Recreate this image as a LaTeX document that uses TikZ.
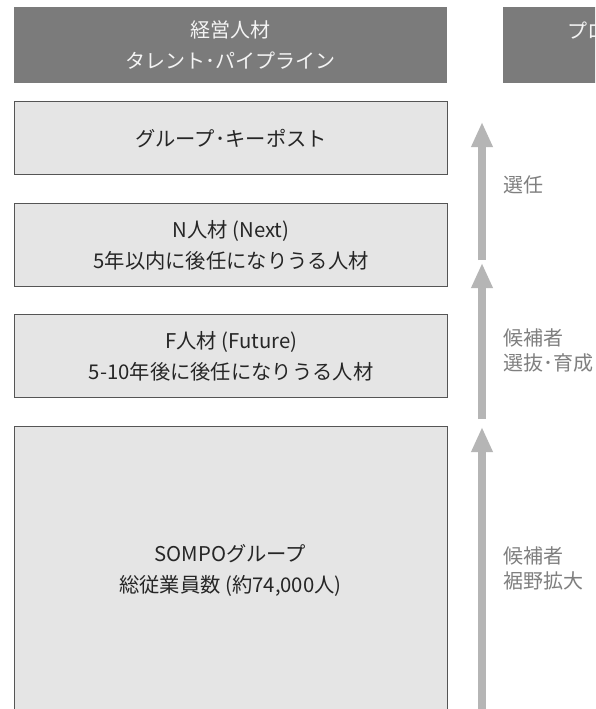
\documentclass[tikz,border=0pt]{standalone}
\usepackage{fontspec}
\setmainfont{Noto Sans CJK JP}
\usetikzlibrary{arrows.meta,backgrounds}
\definecolor{hdrfill}{HTML}{7B7B7B}
\definecolor{hdrtext}{HTML}{F4F4F4}
\definecolor{boxfill}{HTML}{E5E5E5}
\definecolor{boxline}{HTML}{555555}
\definecolor{barcol}{HTML}{B5B5B5}
\definecolor{boxtext}{HTML}{262626}
\definecolor{lbltext}{HTML}{7F7F7F}
\newcommand{\pgap}{\hspace{0.22em}}
\begin{document}
\begin{tikzpicture}[x=1pt,y=-1pt,
  hdr/.style={fill=hdrfill,draw=none,inner sep=0pt,anchor=north west},
  hdrtxt/.style={text=hdrtext,align=center,inner sep=0pt,font=\fontsize{20}{31}\selectfont},
  stagebox/.style={fill=boxfill,draw=boxline,line width=1.2pt,inner sep=0pt,anchor=north west,minimum width=433pt},
  boxtxt/.style={text=boxtext,align=center,inner sep=0pt,font=\fontsize{20.3}{31}\selectfont},
  bar/.style={draw=barcol,line width=26pt},
  uparrow/.style={draw=barcol,line width=8pt,-{Triangle[width=20pt,length=25pt]}},
  lbl/.style={text=lbltext,align=left,anchor=west,inner sep=0pt,font=\fontsize{20}{25}\selectfont}
]
\useasboundingbox (0,0) rectangle (595,709);
\clip (0,0) rectangle (595,709);
\fill[white] (0,0) rectangle (595,709);

% headers
\node[hdr,minimum width=433pt,minimum height=76pt] (h1) at (14,7) {};
\node[hdrtxt] (h1t) at (h1.center) {経営人材\\タレント･パイプライン};
\node[hdr,minimum width=120pt,minimum height=76pt] (h2) at (503,7) {};
\node[hdrtxt,anchor=west] (h2t) at (567,31) {プロ};

% stage boxes
\node[stagebox,minimum height=73pt] (k) at (14,101) {};
\node[boxtxt] (kt) at (k.center) {グループ･キーポスト};
\node[stagebox,minimum height=83pt] (n) at (14,203) {};
\node[boxtxt] (nt) at (n.center) {N人材\pgap(Next)\pgap\\5年以内に後任になりうる人材};
\node[stagebox,minimum height=83pt] (f) at (14,314) {};
\node[boxtxt] (ft) at (f.center) {F人材\pgap(Future)\pgap\\5-10年後に後任になりうる人材};
\node[stagebox,minimum height=340pt] (s) at (14,426) {};
\node[boxtxt] (st) at (230.5,570) {SOMPOグループ\\総従業員数\pgap(約74,000人)\pgap};

% bars between boxes
\begin{scope}[on background layer]
\draw[bar] ([xshift=-7.5pt]k.south) -- ([xshift=-7.5pt]n.north);
\draw[bar] ([xshift=-7.5pt]n.south) -- ([xshift=-7.5pt]f.north);
\draw[bar] ([xshift=-7.5pt]f.south) -- ([xshift=-7.5pt]s.north);
\end{scope}

% arrows
\coordinate (a1s) at (482,260);
\coordinate (a1t) at (482,122);
\coordinate (a2s) at (482,419);
\coordinate (a2t) at (482,263);
\coordinate (a3s) at (482,730);
\coordinate (a3t) at (482,427);
\draw[uparrow] (a1s) -- (a1t);
\draw[uparrow] (a2s) -- (a2t);
\draw[uparrow] (a3s) -- (a3t);

% labels
\node[lbl] (l1) at (503,185) {選任};
\node[lbl] (l2) at (503,350) {候補者\\選抜･育成};
\node[lbl] (l3) at (503,568) {候補者\\裾野拡大};
\end{tikzpicture}
\end{document}
